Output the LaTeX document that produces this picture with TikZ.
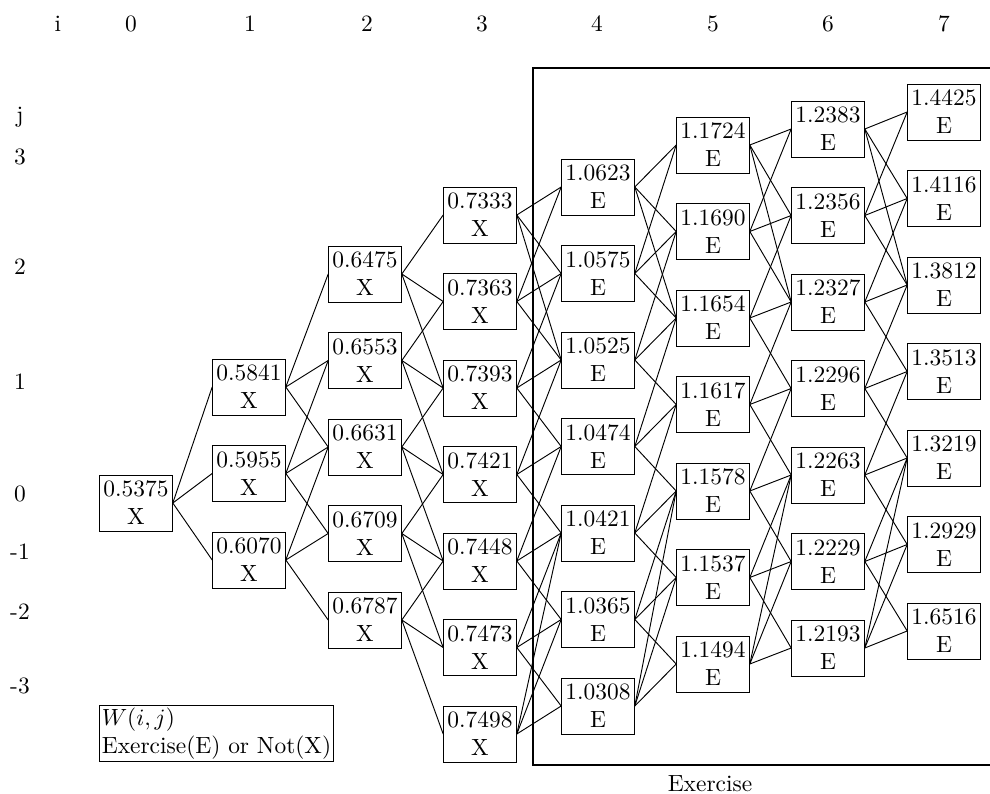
\documentclass[tikz,border=0pt]{standalone}
\usepackage{amsmath}
\usepackage{tikz}

\tikzset{
  tnode/.style={draw, align=center, minimum width=1.09cm, minimum height=0.84cm, inner sep=1pt},
  lab/.style={anchor=base}
}

\begin{document}
\begin{tikzpicture}[x=0.015cm, y=-0.015cm]
      \useasboundingbox (0,0) rectangle (990,794);

      % Index labels
      \node[lab] (ilab) at (58,32) {i};
      \foreach \i/\x in {0/131,1/250,2/367,3/482,4/597,5/713,6/828,7/944}
        \node[lab] (i\i) at (\x,32) {\i};
      \node[lab] (jlab) at (20,123) {j};
      \foreach \j/\y [count=\cc] in {3/165,2/275,1/390,0/502,-1/560,-2/620,-3/693}
        \node[lab] (j\cc) at (20,\y) {\j};

      % Tree nodes, one column per step
      \foreach \i/\x/\yt/\ex/\vals in {
          0/136/503/X/{0.5375},
          1/249/387/X/{0.5841,0.5955,0.6070},
          2/365/274/X/{0.6475,0.6553,0.6631,0.6709,0.6787},
          3/480/215/X/{0.7333,0.7363,0.7393,0.7421,0.7448,0.7473,0.7498},
          4/598/187/E/{1.0623,1.0575,1.0525,1.0474,1.0421,1.0365,1.0308},
          5/713/145/E/{1.1724,1.1690,1.1654,1.1617,1.1578,1.1537,1.1494},
          6/828/129/E/{1.2383,1.2356,1.2327,1.2296,1.2263,1.2229,1.2193},
          7/944/112/E/{1.4425,1.4116,1.3812,1.3513,1.3219,1.2929,1.6516}}
        \foreach \v [count=\k] in \vals
          \node[tnode] (n\i-\k) at (\x,\yt+86.5*\k-86.5) {\v\\\ex};

      % Branches while the tree grows
      \foreach \i in {0,1,2}{
        \pgfmathtruncatemacro\nx{\i+1}
        \pgfmathtruncatemacro\nm{2*\i+1}
        \foreach \k in {1,...,\nm}
          \foreach \dd in {0,1,2}{
            \pgfmathtruncatemacro\tg{\k+\dd}
            \draw (n\i-\k.east) -- (n\nx-\tg.west);
          }
      }

      % Branches with the edge nodes at j = 3 and j = -3
      \foreach \i in {3,...,6}{
        \pgfmathtruncatemacro\nx{\i+1}
        \foreach \k in {1,...,7}{
          \pgfmathtruncatemacro\md{min(max(\k,2),6)}
          \foreach \dd in {-1,0,1}{
            \pgfmathtruncatemacro\tg{\md+\dd}
            \draw (n\i-\k.east) -- (n\nx-\tg.west);
          }
        }
      }

      % Exercise region
      \coordinate (exTR) at (990,68);
      \coordinate (exTL) at (533,68);
      \coordinate (exBL) at (533,765);
      \coordinate (exBR) at (990,765);
      \draw[line width=1.2pt] (exTR) -- (exTL) -- (exBL) -- (exBR);
      \node (exlab) at (710,784) {Exercise};

      % Legend
      \node[draw, align=left, inner sep=1pt, anchor=north west] (legend) at (99,705)
        {$W(i,j)$\\Exercise(E) or Not(X)};

    \end{tikzpicture}
\end{document}
